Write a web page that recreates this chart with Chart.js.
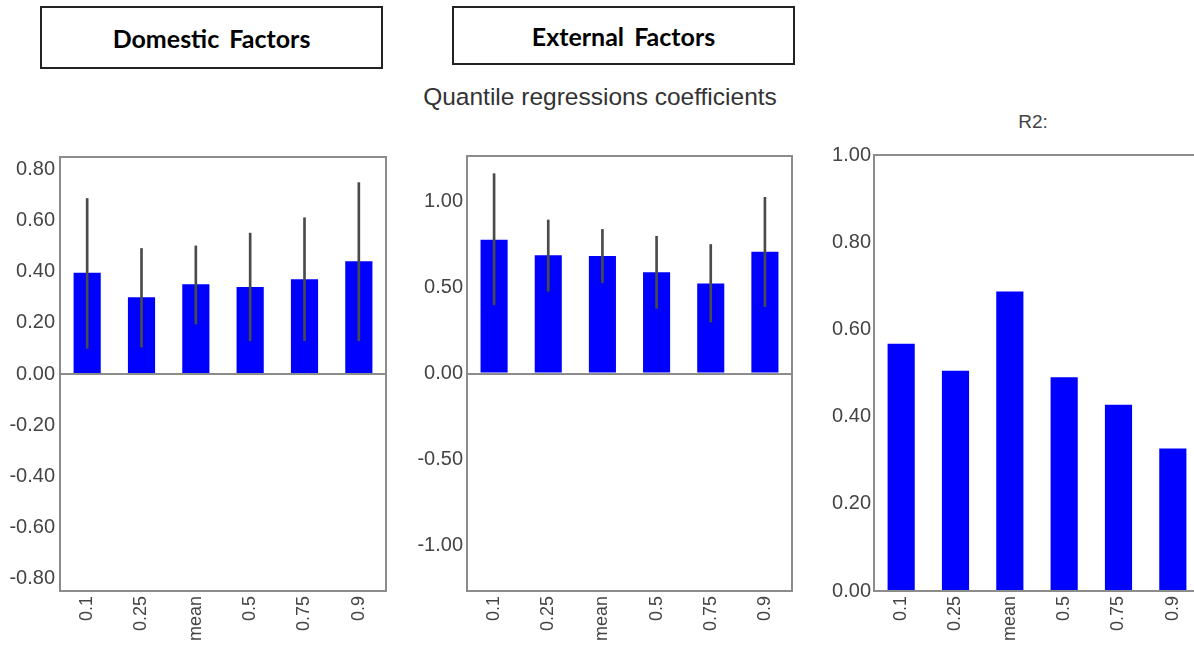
<!DOCTYPE html>
<html>
<head>
<meta charset="utf-8">
<script src="https://cdn.jsdelivr.net/npm/chart.js@4.4.0/dist/chart.umd.min.js"></script>
<style>
  html, body { margin: 0; padding: 0; background: #fff; }
  body { width: 1194px; height: 645px; overflow: hidden; position: relative; font-family: "Liberation Sans", Arial, sans-serif; }
  .hbox {
    position: absolute; box-sizing: border-box; border: 2px solid #222;
    display: flex; align-items: center; justify-content: center;
    font-family: Lato, "Open Sans", sans-serif; font-weight: 700; font-size: 25px; color: #000; word-spacing: 4px;
  }
  #boxDom { left: 40px; top: 6px; width: 343px; height: 63px; }
  #boxExt { left: 452px; top: 6px; width: 343px; height: 59px; }
  #mainTitle { position: absolute; left: 400px; width: 400px; top: 85px; line-height: 24px; font-size: 24.5px; color: #333; text-align: center; white-space: nowrap; }
  #r2Title { position: absolute; left: 983px; width: 100px; top: 112px; line-height: 20px; font-size: 19px; color: #444; text-align: center; }
  .panel { position: absolute; top: 140px; width: 400px; height: 505px; }
  #pDom { left: 0; }
  #pExt { left: 400px; }
  #pR2  { left: 800px; }
</style>
</head>
<body>
<div class="hbox" id="boxDom">Domestic Factors</div>
<div class="hbox" id="boxExt">External Factors</div>
<div id="mainTitle">Quantile regressions coefficients</div>
<div id="r2Title">R2:</div>
<div class="panel" id="pDom"><canvas id="domChart"></canvas></div>
<div class="panel" id="pExt"><canvas id="extChart"></canvas></div>
<div class="panel" id="pR2"><canvas id="r2Chart"></canvas></div>

<script>
// ─── Data ─────────────────────────────────────────────────────────────────────
const categories = ['0.1', '0.25', 'mean', '0.5', '0.75', '0.9'];

const domesticCoef = [0.395, 0.30, 0.35, 0.34, 0.37, 0.44];
const domesticLow  = [0.10, 0.105, 0.195, 0.13, 0.13, 0.13];
const domesticHigh = [0.685, 0.49, 0.50, 0.55, 0.61, 0.747];
const domesticTicks = [-0.8, -0.6, -0.4, -0.2, 0, 0.2, 0.4, 0.6, 0.8];

const externalCoef = [0.78, 0.69, 0.685, 0.59, 0.525, 0.71];
const externalLow  = [0.40, 0.48, 0.53, 0.38, 0.30, 0.39];
const externalHigh = [1.165, 0.895, 0.84, 0.80, 0.752, 1.027];
const externalTicks = [-1, -0.5, 0, 0.5, 1];

const r2Values = [0.567, 0.505, 0.687, 0.49, 0.427, 0.327];
const r2Ticks  = [0, 0.2, 0.4, 0.6, 0.8, 1];

const BAR_BLUE  = '#0000ff';
const ERR_GREY  = '#4a4a4a';
const AXIS_GREY = '#8c8c8c';
const TICK_TEXT = '#444';

// box around the plot area
const framePlugin = {
  id: 'frame',
  afterDraw(chart) {
    const { ctx, chartArea: a } = chart;
    ctx.save();
    ctx.strokeStyle = AXIS_GREY;
    ctx.lineWidth = 2;
    ctx.strokeRect(a.left, a.top, a.right - a.left, a.bottom - a.top);
    ctx.restore();
  }
};

function buildPanel(id, cfg) {
  const datasets = [];
  if (cfg.low) {
    // error bars as thin floating bars [low, high]
    datasets.push({
      data: cfg.low.map((l, i) => [l, cfg.high[i]]),
      backgroundColor: ERR_GREY,
      barThickness: 2,
      grouped: false,
      order: 0
    });
  }
  datasets.push({
    data: cfg.values,
    backgroundColor: BAR_BLUE,
    barPercentage: 0.5,
    categoryPercentage: 1,
    grouped: false,
    order: 1
  });

  return new Chart(document.getElementById(id), {
    type: 'bar',
    data: { labels: categories, datasets },
    options: {
      responsive: true, maintainAspectRatio: false, animation: false,
      layout: { padding: { top: 15, right: cfg.padRight, left: 0, bottom: 0 } },
      plugins: { legend: { display: false }, tooltip: { enabled: false } },
      scales: {
        x: {
          grid: { display: false, drawTicks: false },
          border: { display: false },
          ticks: {
            color: TICK_TEXT, font: { family: 'Liberation Sans', size: 18 },
            minRotation: 90, maxRotation: 90, padding: 5, autoSkip: false
          },
          afterFit(s) { s.height = 54; }
        },
        y: {
          min: cfg.min, max: cfg.max,
          border: { display: false },
          grid: {
            drawTicks: false, lineWidth: 2,
            color: (c) => (c.tick && c.tick.value === 0 ? AXIS_GREY : 'rgba(0,0,0,0)')
          },
          ticks: {
            color: TICK_TEXT, font: { family: 'Liberation Sans', size: 20 }, padding: cfg.tickPad,
            callback: (v) => Number(v).toFixed(2)
          },
          afterBuildTicks(s) { s.ticks = cfg.ticks.map(v => ({ value: v })); },
          afterFit(s) { s.width = cfg.axisWidth; }
        }
      }
    },
    plugins: [framePlugin]
  });
}

buildPanel('domChart', {
  values: domesticCoef, low: domesticLow, high: domesticHigh,
  min: -0.847, max: 0.847, ticks: domesticTicks,
  axisWidth: 60, padRight: 14, tickPad: 5
});

buildPanel('extChart', {
  values: externalCoef, low: externalLow, high: externalHigh,
  min: -1.268, max: 1.268, ticks: externalTicks,
  axisWidth: 67, padRight: 8, tickPad: 4
});

buildPanel('r2Chart', {
  values: r2Values,
  min: 0, max: 1, ticks: r2Ticks,
  axisWidth: 74, padRight: 0, tickPad: 3
});
</script>
</body>
</html>
